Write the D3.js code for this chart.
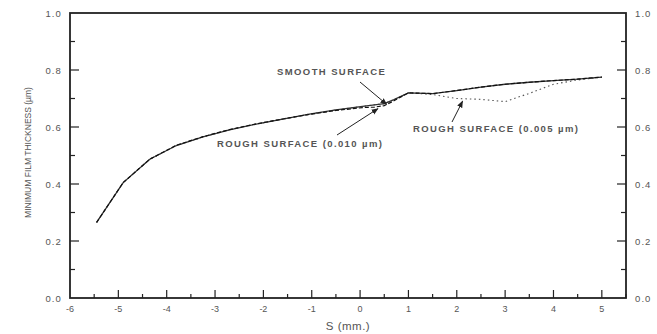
<!DOCTYPE html>
<html>
<head>
<meta charset="utf-8">
<script src="https://cdn.jsdelivr.net/npm/d3@7"></script>
<style>
  html, body { margin: 0; padding: 0; background: #fff; }
  svg { display: block; font-family: "Liberation Sans", Arial, sans-serif; }
</style>
</head>
<body>
<svg id="chart" width="657" height="334"></svg>
<script>
// Position along the contact, S (mm)
const sPos = [-5.45, -4.9, -4.35, -3.8, -3.25, -2.7, -2.15, -1.6, -1.05, -0.5, 0.05, 0.3, 0.5, 0.7, 1.0, 1.5, 2.0, 2.5, 3.0, 3.5, 4.0, 4.5, 5.0];
// Minimum film thickness (µm) for each surface condition
const smooth     = [0.265, 0.405, 0.487, 0.535, 0.565, 0.590, 0.610, 0.628, 0.645, 0.660, 0.672, 0.678, 0.682, 0.696, 0.720, 0.717, 0.728, 0.740, 0.750, 0.757, 0.763, 0.768, 0.775];
const rough010   = [0.265, 0.405, 0.487, 0.536, 0.566, 0.591, 0.611, 0.628, 0.644, 0.658, 0.668, 0.670, 0.675, 0.692, 0.720, 0.717, 0.728, 0.740, 0.750, 0.757, 0.763, 0.768, 0.775];
const rough005   = [0.265, 0.405, 0.487, 0.535, 0.565, 0.590, 0.610, 0.628, 0.645, 0.660, 0.672, 0.678, 0.682, 0.696, 0.720, 0.714, 0.700, 0.697, 0.689, 0.718, 0.750, 0.765, 0.775];

const xTicks = [-6, -5, -4, -3, -2, -1, 0, 1, 2, 3, 4, 5];
const yTicks = [0.0, 0.2, 0.4, 0.6, 0.8, 1.0];

const svg = d3.select("#chart");
const plotL = 70, plotR = 626, plotT = 13, plotB = 298;

const x = d3.scaleLinear().domain([-6, 5.5]).range([plotL, plotR]);
const y = d3.scaleLinear().domain([0, 1]).range([plotB, plotT]);

const axisColor = "#222";
const textColor = "#555";

// Frame
svg.append("rect")
  .attr("x", plotL).attr("y", plotT)
  .attr("width", plotR - plotL).attr("height", plotB - plotT)
  .attr("fill", "none").attr("stroke", axisColor).attr("stroke-width", 1.8);

// Minor and major ticks
const xMinor = d3.range(-5.5, 5.51, 1);
const yMinor = d3.range(0.1, 1.0, 0.2);

const g = svg.append("g").attr("stroke", axisColor).attr("stroke-width", 1.2);
xTicks.filter(d => d > -6).forEach(d => {
  g.append("line").attr("x1", x(d)).attr("x2", x(d)).attr("y1", plotB).attr("y2", plotB - 8);
});
xMinor.forEach(d => {
  g.append("line").attr("x1", x(d)).attr("x2", x(d)).attr("y1", plotB).attr("y2", plotB - 4);
});
yTicks.filter(d => d > 0 && d < 1).forEach(d => {
  g.append("line").attr("x1", plotL).attr("x2", plotL + 9).attr("y1", y(d)).attr("y2", y(d));
  g.append("line").attr("x1", plotR).attr("x2", plotR - 9).attr("y1", y(d)).attr("y2", y(d));
});
yMinor.forEach(d => {
  g.append("line").attr("x1", plotL).attr("x2", plotL + 5).attr("y1", y(d)).attr("y2", y(d));
  g.append("line").attr("x1", plotR).attr("x2", plotR - 5).attr("y1", y(d)).attr("y2", y(d));
});

// Tick labels
const fmt = d3.format(".1f");
svg.append("g").selectAll("text").data(xTicks).join("text")
  .attr("x", d => x(d)).attr("y", 311.5)
  .attr("text-anchor", "middle").attr("font-size", 9).attr("fill", textColor)
  .text(d => d);
svg.append("g").selectAll("text").data(yTicks).join("text")
  .attr("x", plotL - 8).attr("y", d => y(d) + 3.5)
  .attr("text-anchor", "end").attr("font-size", 9.5).attr("letter-spacing", 1.1).attr("fill", textColor)
  .text(d => fmt(d));
svg.append("g").selectAll("text").data(yTicks).join("text")
  .attr("x", plotR + 9).attr("y", d => y(d) + 3.5)
  .attr("text-anchor", "start").attr("font-size", 9.5).attr("letter-spacing", 1.1).attr("fill", textColor)
  .text(d => fmt(d));

// Axis titles
svg.append("text")
  .attr("x", (plotL + plotR) / 2).attr("y", 329.5)
  .attr("text-anchor", "middle").attr("font-size", 11.5).attr("letter-spacing", 0.5).attr("fill", textColor)
  .text("S (mm.)");
svg.append("text")
  .attr("transform", `translate(31,${(plotT + plotB) / 2 - 3}) rotate(-90)`)
  .attr("text-anchor", "middle").attr("font-size", 8.5).attr("fill", textColor)
  .text("MINIMUM FILM THICKNESS (\u00b5m)");

// Curves
const line = d3.line().x((d, i) => x(sPos[i])).y(d => y(d));
svg.append("path").datum(rough005).attr("d", line)
  .attr("fill", "none").attr("stroke", "#555").attr("stroke-width", 1.1)
  .attr("stroke-dasharray", "1.5,3");
svg.append("path").datum(smooth).attr("d", line)
  .attr("fill", "none").attr("stroke", "#333").attr("stroke-width", 1.3);
svg.append("path").datum(rough010).attr("d", line)
  .attr("fill", "none").attr("stroke", "#111").attr("stroke-width", 1.2)
  .attr("stroke-dasharray", "4,2");

// Annotations with arrows
const defs = svg.append("defs");
defs.append("marker").attr("id", "arrow")
  .attr("viewBox", "0 0 10 10").attr("refX", 9).attr("refY", 5)
  .attr("markerWidth", 7).attr("markerHeight", 7).attr("orient", "auto")
  .append("path").attr("d", "M0,1 L10,5 L0,9 Z").attr("fill", "#222");

function note(text, tx, ty, x1, y1, s, v) {
  svg.append("text").attr("x", tx).attr("y", ty)
    .attr("font-size", 9.5).attr("font-weight", "bold").attr("fill", textColor)
    .attr("letter-spacing", 1.4)
    .text(text);
  svg.append("line")
    .attr("x1", x1).attr("y1", y1).attr("x2", x(s)).attr("y2", y(v) + (v < 0.7 ? 1 : 0))
    .attr("stroke", "#222").attr("stroke-width", 1)
    .attr("marker-end", "url(#arrow)");
}
note("SMOOTH SURFACE", 277, 75, 360, 82, 0.55, 0.683);
note("ROUGH SURFACE (0.010 \u00b5m)", 217, 147, 337, 135, 0.37, 0.668);
note("ROUGH SURFACE (0.005 \u00b5m)", 413, 132, 452, 122, 2.12, 0.694);
</script>
</body>
</html>
